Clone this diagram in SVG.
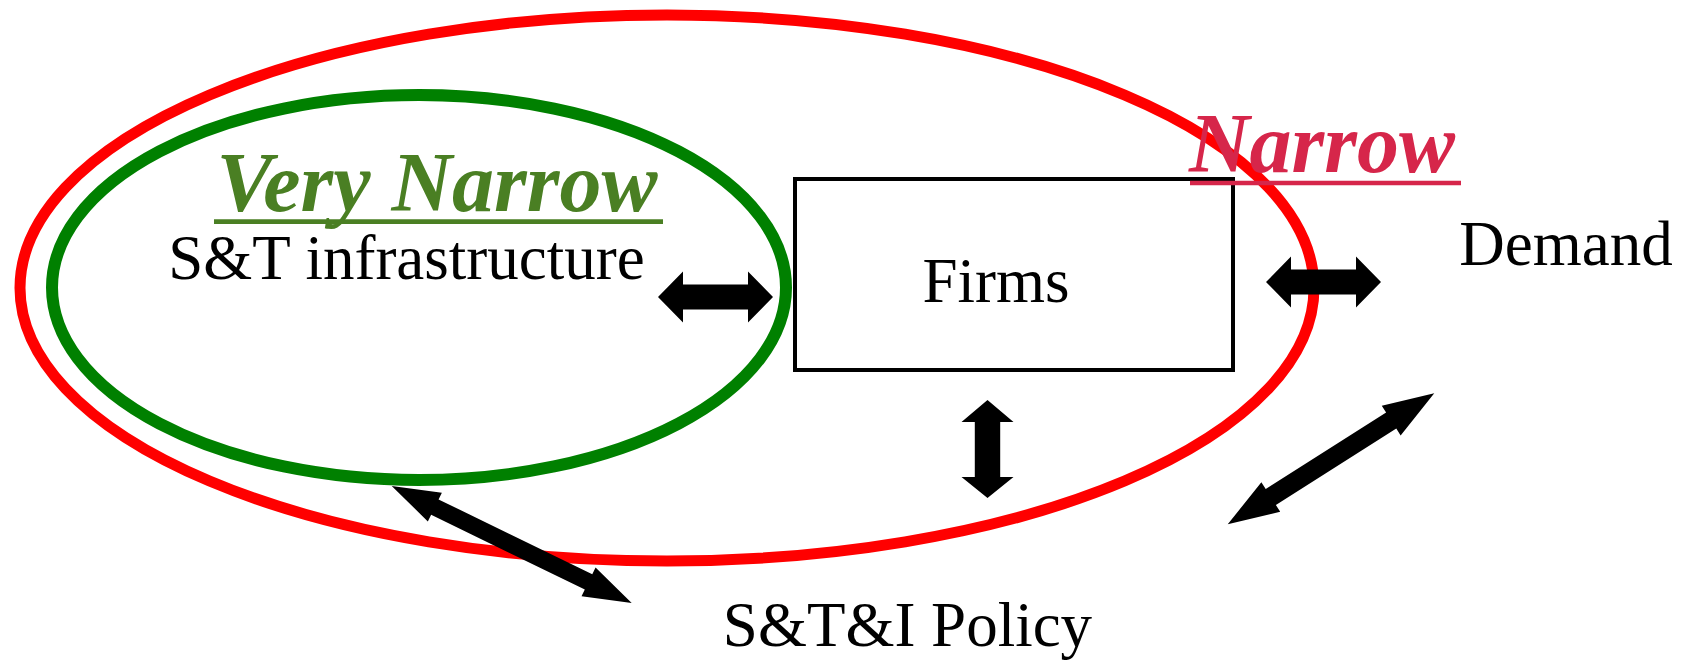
<svg xmlns="http://www.w3.org/2000/svg" width="1682" height="661" viewBox="0 0 1682 661">
  <style>
    .label { font-family: "Liberation Serif", "Times New Roman", serif; font-size: 63px; fill: #000; text-anchor: middle; }
    .scope { font-family: "Liberation Serif", "Times New Roman", serif; font-size: 84px; font-weight: bold; font-style: italic; text-anchor: middle; }
    .arrow { fill: #000; }
  </style>
  <defs>
    <!-- short horizontal double block arrow, centred on the origin -->
    <polygon id="hArrow" points="-57.5,0 -32.5,-25.5 -32.5,-12.5 32.5,-12.5 32.5,-25.5 57.5,0 32.5,25.5 32.5,12.5 -32.5,12.5 -32.5,25.5"/>
  </defs>

  <rect width="1682" height="661" fill="#fff"/>

  <!-- scope rings -->
  <g id="narrow-scope">
    <ellipse cx="667" cy="288" rx="647" ry="273" fill="none" stroke="#ff0000" stroke-width="11"/>
  </g>
  <g id="very-narrow-scope">
    <ellipse cx="419" cy="287.5" rx="367" ry="192.5" fill="none" stroke="#008000" stroke-width="12"/>
  </g>

  <!-- nodes -->
  <g id="firms">
    <rect x="795" y="179" width="438" height="191" fill="none" stroke="#000" stroke-width="4"/>
    <text class="label" x="996" y="302">Firms</text>
  </g>
  <g id="infrastructure">
    <text class="label" x="406.5" y="278.5">S&amp;T infrastructure</text>
  </g>
  <g id="demand">
    <text class="label" x="1566" y="265">Demand</text>
  </g>
  <g id="policy">
    <text class="label" x="907.5" y="646">S&amp;T&amp;I Policy</text>
  </g>
  <g id="very-narrow-label">
    <text class="scope" x="437" y="211" fill="#4a7f23">Very Narrow</text>
    <line x1="214" y1="221.7" x2="663" y2="221.7" stroke="#4a7f23" stroke-width="4.7"/>
  </g>
  <g id="narrow-label">
    <text class="scope" x="1322" y="171.7" fill="#d6264a">Narrow</text>
    <line x1="1190" y1="183" x2="1461" y2="183" stroke="#d6264a" stroke-width="4.3"/>
  </g>

  <!-- connectors -->
  <g id="connectors" class="arrow">
    <use href="#hArrow" transform="translate(715.5,297)"/>
    <use href="#hArrow" transform="translate(1323.5,282)"/>
    <polygon points="987.5,400 1013.5,422 1000.2,422 1000.2,477 1013.5,477 987.5,498 961.5,477 974.8,477 974.8,422 961.5,422"/>
    <polygon transform="translate(1331,458.8) rotate(-32.4)" points="-122.3,0 -71.3,-17.6 -71.3,-9.5 71.3,-9.5 71.3,-17.6 122.3,0 71.3,17.6 71.3,9.5 -71.3,9.5 -71.3,17.6"/>
    <polygon transform="translate(511.7,544.5) rotate(26)" points="-133.5,0 -85.5,-16 -85.5,-8.5 85.5,-8.5 85.5,-16 133.5,0 85.5,16 85.5,8.5 -85.5,8.5 -85.5,16"/>
  </g>
</svg>
